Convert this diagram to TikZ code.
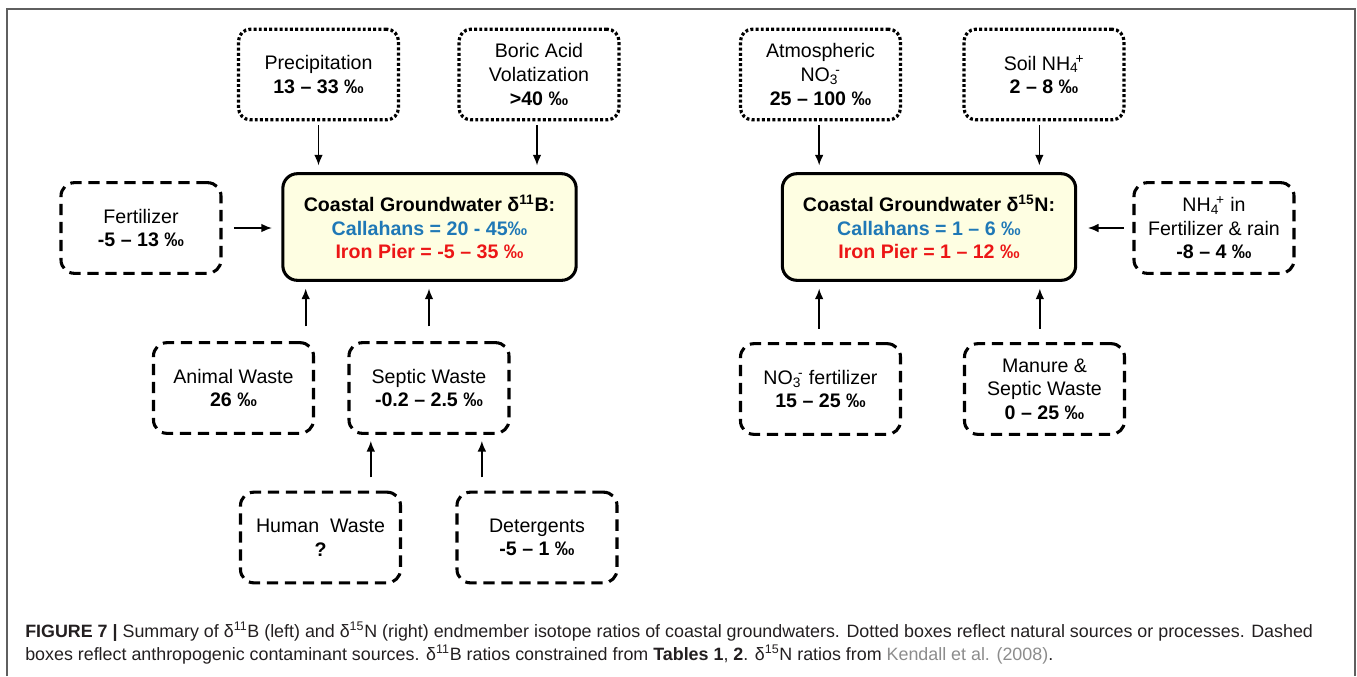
\documentclass[tikz,border=0pt]{standalone}
\usepackage{fontspec}
\setmainfont{Liberation Sans}
\usetikzlibrary{arrows.meta}
\definecolor{cgw}{RGB}{254,254,226}
\definecolor{cblue}{RGB}{31,120,182}
\definecolor{cred}{RGB}{236,22,22}
\definecolor{cframe}{RGB}{95,95,95}
\definecolor{ccap}{RGB}{35,31,32}
\definecolor{cref}{RGB}{140,140,140}
\newcommand{\boxfont}{\fontsize{14.7}{17.7}\selectfont}
\newcommand{\capfont}{\fontsize{13.4}{17}\selectfont}
\newcommand{\ion}[2]{\textsubscript{#1}\kern-0.15em\textsuperscript{#2}}
\tikzset{natbox/.style={draw,line width=2.4pt,dash pattern=on 2.2pt off 1.7pt,
           rounded corners=9pt,minimum width=120pt,minimum height=68pt,align=center,font=\boxfont},
         antbox/.style={draw,line width=2.3pt,dash pattern=on 8.5pt off 5pt,
           rounded corners=10pt,minimum width=120pt,minimum height=68pt,align=center,font=\boxfont},
         gwbox/.style={draw,fill=cgw,line width=2.3pt,rounded corners=11pt,
           minimum width=220pt,minimum height=80pt,align=center,font=\boxfont\bfseries}}
\tikzset{feed/.style={-{Latex[length=8pt,width=6.5pt]},line width=1.2pt,shorten >=5pt}}

\begin{document}
\begin{tikzpicture}[x=0.75pt,y=-0.75pt]
    \useasboundingbox (0,0) rectangle (1357,676);
    \draw[cframe,line width=1.4pt] (7,676) -- (7,9) -- (1355,9) -- (1355,676);
    % boron
    \node[gwbox] (ctrB) at (429.5,227) {Coastal Groundwater δ\textsuperscript{11}B:\\
        \textcolor{cblue}{Callahans = 20 - 45‰}\\ \textcolor{cred}{Iron Pier = -5 – 35 ‰}};
    \node[natbox] (precip) at (318.5,74.5) {Precipitation\\ \textbf{13 – 33 ‰}};
    \node[natbox] (boric) at (539,74.5) {Boric Acid\\ Volatization\\ \textbf{>40 ‰}};
    \node[antbox] (fert) at (141,228) {Fertilizer\\ \textbf{-5 – 13 ‰}};
    \node[antbox] (animal) at (233.5,388) {Animal Waste\\ \textbf{26 ‰}};
    \node[antbox] (septic) at (429,388) {Septic Waste\\ \textbf{-0.2 – 2.5 ‰}};
    \node[antbox] (human) at (320.5,537.5) {Human\ \ Waste\\ \textbf{?}};
    \node[antbox] (deterg) at (537,537.5) {Detergents\\ \textbf{-5 – 1 ‰}};
    \draw[feed,shorten <=3pt] (precip.south) -- (precip.south |- ctrB.north);
    \draw[feed,shorten <=3pt] ([xshift=-1.5pt]boric.south) -- ([xshift=-1.5pt]boric.south |- ctrB.north);
    \draw[feed,shorten <=8.5pt,shorten >=7pt] (fert.east) -- (fert.east -| ctrB.west);
    \draw[feed,shorten <=11pt] ([xshift=-7pt]animal.north east) -- ([xshift=-7pt]animal.north east |- ctrB.south);
    \draw[feed,shorten <=11pt] (septic.north) -- (septic.north |- ctrB.south);
    \draw[feed,shorten <=10pt,shorten >=4.5pt] ([xshift=17.5pt]septic.south west |- human.north) -- ([xshift=17.5pt]septic.south west);
    \draw[feed,shorten <=10pt,shorten >=4.5pt] ([xshift=-21.5pt]septic.south east |- deterg.north) -- ([xshift=-21.5pt]septic.south east);
    % nitrogen
    \node[gwbox] (ctrN) at (929,227) {Coastal Groundwater δ\textsuperscript{15}N:\\
        \textcolor{cblue}{Callahans = 1 – 6 ‰}\\ \textcolor{cred}{Iron Pier = 1 – 12 ‰}};
    \node[natbox] (atmos) at (820.5,74.5) {Atmospheric\\ NO\ion{3}{-}\\ \textbf{25 – 100 ‰}};
    \node[natbox] (soil) at (1044,74.5) {Soil NH\ion{4}{+}\\ \textbf{2 – 8 ‰}};
    \node[antbox] (nhfert) at (1214,228) {NH\ion{4}{+} in\\ Fertilizer \& rain\\ \textbf{-8 – 4 ‰}};
    \node[antbox] (nofert) at (820.5,389) {NO\ion{3}{-} fertilizer\\ \textbf{15 – 25 ‰}};
    \node[antbox] (manure) at (1044.5,389) {Manure \&\\ Septic Waste\\ \textbf{0 – 25 ‰}};
    \draw[feed,shorten <=3pt] ([xshift=-1pt]atmos.south) -- ([xshift=-1pt]atmos.south |- ctrN.north);
    \draw[feed,shorten <=3pt] ([xshift=-3.5pt]soil.south) -- ([xshift=-3.5pt]soil.south |- ctrN.north);
    \draw[feed,shorten <=6.5pt,shorten >=8pt] (nhfert.west) -- (nhfert.west -| ctrN.east);
    \draw[feed,shorten <=10pt] ([xshift=-1pt]nofert.north) -- ([xshift=-1pt]nofert.north |- ctrN.south);
    \draw[feed,shorten <=10pt] ([xshift=-3.5pt]manure.north) -- ([xshift=-3.5pt]manure.north |- ctrN.south);
    % caption
    \node[anchor=base west,inner sep=0pt,text=ccap,font=\capfont] (capA) at (25,637)
        {\textbf{FIGURE 7 |} Summary of δ\textsuperscript{11}B (left) and δ\textsuperscript{15}N (right) endmember isotope ratios of coastal groundwaters. Dotted boxes reflect natural sources or processes. Dashed};
    \node[anchor=base west,inner sep=0pt,text=ccap,font=\capfont] (capB) at (25,660)
        {boxes reflect anthropogenic contaminant sources. δ\textsuperscript{11}B ratios constrained from \textbf{Tables 1}, \textbf{2}. δ\textsuperscript{15}N ratios from \textcolor{cref}{Kendall et al. (2008)}.};
\end{tikzpicture}
\end{document}
